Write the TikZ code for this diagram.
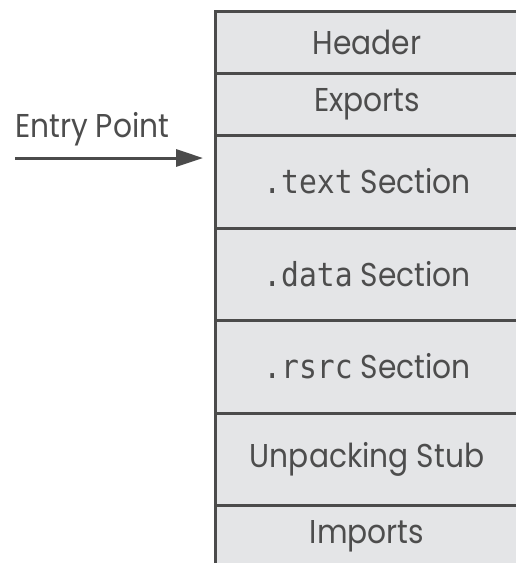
\documentclass[tikz,border=0pt]{standalone}
\usepackage{fontspec}
\setmainfont[FakeStretch=0.9]{Poppins}
\setmonofont[FakeStretch=0.9]{DejaVu Sans Mono}
\usepackage{xcolor}
\usepackage{tikz}
\usetikzlibrary{positioning, arrows.meta}

\definecolor{secfill}{HTML}{E4E5E7}
\definecolor{secline}{HTML}{4B4B4B}
\definecolor{sectext}{HTML}{4D4D4D}

\tikzset{
  sect/.style={draw=secline, line width=3pt, fill=secfill, outer sep=0pt,
    minimum width=304pt, minimum height=#1, inner sep=0pt,
    text=sectext, font=\fontsize{33}{33}\selectfont, anchor=north west},
  sect/.default=62pt
}

\begin{document}
\begin{tikzpicture}[x=1pt, y=-1pt]
      \useasboundingbox (0,0) rectangle (515,563);

      % Sections of the file
      \node[sect] (header) at (215,11) {Header};
      \node[sect, below=0pt of header.south west, anchor=north west] (exports) {Exports};
      \node[sect=93pt, below=0pt of exports.south west, anchor=north west] (text) {\texttt{.text} Section};
      \node[sect=92pt, below=0pt of text.south west, anchor=north west] (data) {\texttt{.data} Section};
      \node[sect=93pt, below=0pt of data.south west, anchor=north west] (rsrc) {\texttt{.rsrc} Section};
      \node[sect=92pt, below=0pt of rsrc.south west, anchor=north west] (stub) {Unpacking Stub};
      \node[sect, below=0pt of stub.south west, anchor=north west] (imports) {Imports};

      % Entry point arrow
      \coordinate (entry) at (15,158);
      \coordinate (tip) at ([xshift=-12pt] entry -| text.west);
      \draw[-{Triangle[length=27pt, width=17pt]}, line width=3pt, secline] (entry) -- (tip);
      \node[above right, inner sep=0pt, text=sectext, font=\fontsize{33}{33}\selectfont] (label) at ([yshift=12pt] entry) {Entry Point};
    \end{tikzpicture}
\end{document}
